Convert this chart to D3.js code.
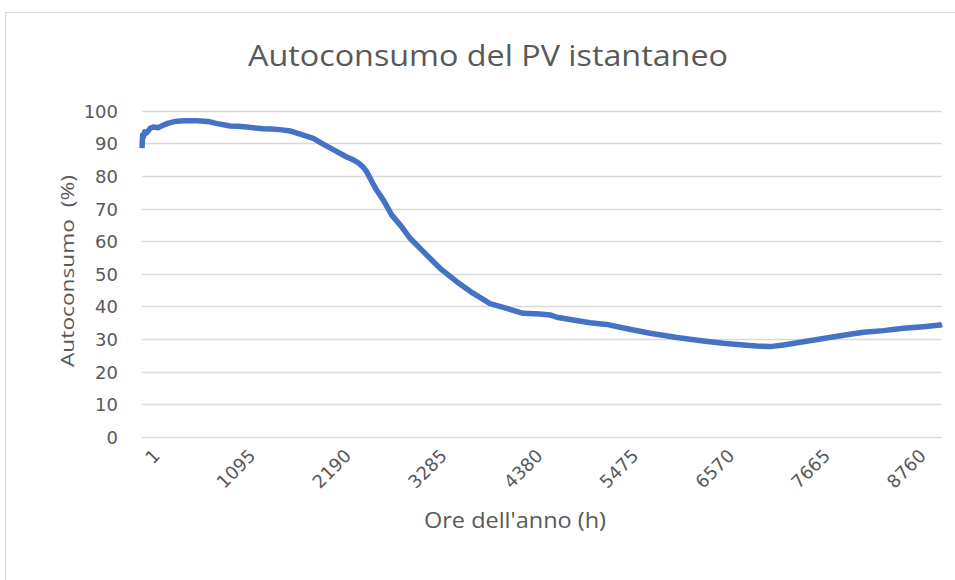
<!DOCTYPE html>
<html>
<head>
<meta charset="utf-8">
<script src="https://cdn.jsdelivr.net/npm/d3@7"></script>
<style>
  html, body { margin: 0; padding: 0; background: #ffffff; }
  svg { display: block; }
</style>
</head>
<body>
<svg id="chart" width="955" height="580"></svg>
<script>
// ---- Data ----
const title = "Autoconsumo del PV istantaneo";
const xTitle = "Ore dell'anno (h)";
const yTitle = "Autoconsumo\u00a0 (%)";

const hours = [1, 8, 15, 30, 52, 90, 125, 180, 234, 290, 344, 400, 453, 530, 600, 680, 746, 800, 855, 910, 965, 1050, 1147, 1240, 1329, 1420, 1512, 1622, 1731, 1800, 1877, 1970, 2060, 2150, 2243, 2310, 2370, 2420, 2462, 2534, 2571, 2644, 2736, 2845, 2936, 3082, 3264, 3447, 3629, 3812, 3995, 4176, 4359, 4469, 4542, 4688, 4907, 5090, 5271, 5564, 5856, 6147, 6366, 6585, 6732, 6878, 7024, 7243, 7462, 7681, 7900, 8119, 8338, 8556, 8739, 8760];
const values = [88.5, 92.5, 91.8, 93.5, 93.2, 94.6, 95.0, 94.8, 95.6, 96.2, 96.6, 96.8, 96.9, 96.9, 96.9, 96.8, 96.6, 96.2, 95.9, 95.6, 95.3, 95.2, 95.0, 94.7, 94.5, 94.4, 94.2, 93.8, 92.8, 92.2, 91.5, 90.0, 88.6, 87.2, 85.8, 85.0, 84.0, 82.8, 81.3, 77.4, 75.6, 72.6, 68.0, 64.4, 60.9, 56.8, 51.7, 47.6, 44.0, 40.9, 39.4, 37.9, 37.7, 37.4, 36.7, 36.0, 35.0, 34.5, 33.4, 31.8, 30.5, 29.4, 28.7, 28.2, 27.9, 27.7, 28.2, 29.2, 30.2, 31.2, 32.1, 32.6, 33.3, 33.8, 34.3, 34.5];

const xTickLabels = [1, 1095, 2190, 3285, 4380, 5475, 6570, 7665, 8760];
const yTicks = [0, 10, 20, 30, 40, 50, 60, 70, 80, 90, 100];

// ---- Layout ----
const svg = d3.select("#chart");
const plot = { left: 142, right: 942, top: 110.7, bottom: 437 };
const textColor = "#595959";
const gridColor = "#d9d9d9";

// chart border
svg.append("rect")
  .attr("x", 5.5).attr("y", 12.5)
  .attr("width", 965).attr("height", 600)
  .attr("fill", "#ffffff")
  .attr("stroke", "#d9d9d9").attr("stroke-width", 1);

const x = d3.scaleLinear().domain([1, 8760]).range([plot.left, plot.right]);
const y = d3.scaleLinear().domain([0, 100]).range([plot.bottom, plot.top]);
// category labels in the reference are spread slightly narrower than the plot
const xLabel = d3.scaleLinear().domain([1, 8760]).range([161, 927]);

// gridlines
svg.append("g")
  .selectAll("line")
  .data(yTicks)
  .join("line")
  .attr("x1", plot.left).attr("x2", plot.right)
  .attr("y1", d => Math.round(y(d)) + 0.5).attr("y2", d => Math.round(y(d)) + 0.5)
  .attr("stroke", gridColor).attr("stroke-width", 1.3);

// y tick labels
const yAxis = d3.axisLeft(y).tickValues(yTicks).tickSize(0).tickPadding(0);
const gy = svg.append("g").attr("transform", "translate(118,0)").call(yAxis);
gy.select(".domain").remove();
gy.selectAll("text")
  .attr("fill", textColor)
  .attr("font-family", "'DejaVu Sans', sans-serif")
  .attr("font-size", 18)
  .attr("dy", "0.36em");

// x tick labels (rotated)
svg.append("g")
  .selectAll("text")
  .data(xTickLabels)
  .join("text")
  .attr("transform", d => `translate(${xLabel(d)},457) rotate(-45)`)
  .attr("text-anchor", "end")
  .attr("fill", textColor)
  .attr("font-family", "'DejaVu Sans', sans-serif")
  .attr("font-size", 18)
  .text(d => d);

// line
const line = d3.line()
  .x((d, i) => x(hours[i]))
  .y(d => y(d))
  .curve(d3.curveLinear);

svg.append("path")
  .datum(values)
  .attr("d", line)
  .attr("fill", "none")
  .attr("stroke", "#4472c4")
  .attr("stroke-width", 5.5)
  .attr("stroke-linejoin", "round")
  .attr("stroke-linecap", "butt");

// title
svg.append("text")
  .attr("x", 488).attr("y", 66)
  .attr("text-anchor", "middle")
  .attr("fill", textColor)
  .attr("font-family", "'Open Sans', sans-serif")
  .attr("font-size", 29)
  .attr("textLength", 480)
  .attr("lengthAdjust", "spacingAndGlyphs")
  .text(title);

// x axis title
svg.append("text")
  .attr("x", 515).attr("y", 528)
  .attr("text-anchor", "middle")
  .attr("fill", textColor)
  .attr("font-family", "'Open Sans', sans-serif")
  .attr("font-size", 21)
  .attr("textLength", 182)
  .attr("lengthAdjust", "spacingAndGlyphs")
  .text(xTitle);

// y axis title
svg.append("text")
  .attr("transform", "translate(74,271) rotate(-90)")
  .attr("text-anchor", "middle")
  .attr("fill", textColor)
  .attr("font-family", "'Open Sans', sans-serif")
  .attr("font-size", 19)
  .attr("textLength", 192)
  .attr("lengthAdjust", "spacingAndGlyphs")
  .text(yTitle);
</script>
</body>
</html>
